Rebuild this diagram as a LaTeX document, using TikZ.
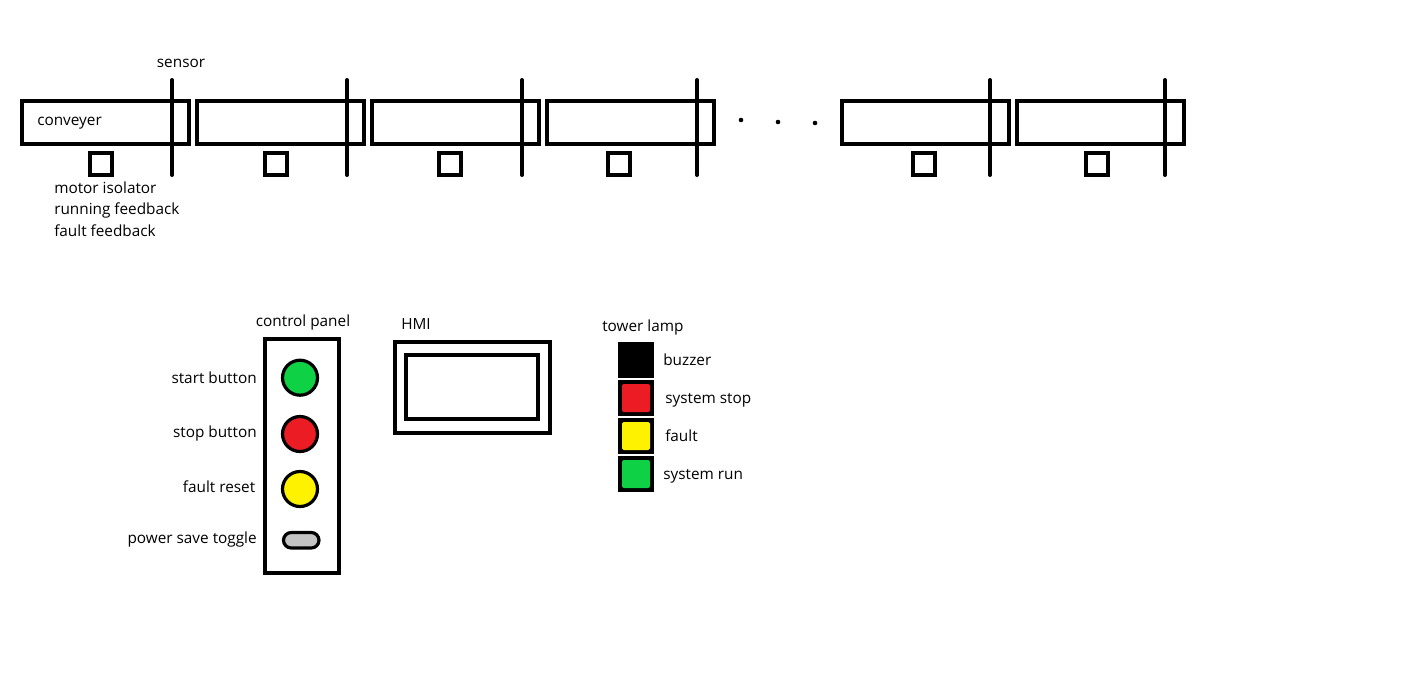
\documentclass[tikz,border=0pt]{standalone}
\usepackage{fontspec}
\setmainfont{Open Sans}
\begin{document}
\begin{tikzpicture}[x=0.75pt,y=-0.75pt,
  thick line/.style={line width=3pt},
  lbl/.style={inner sep=0pt,anchor=mid,yshift=-1.5pt,font=\fontsize{11.5pt}{13pt}\selectfont},
  sensorline/.style={line width=3pt,line cap=round},
  btn/.style={draw=black,line width=2.4pt},
  lampbox/.style={fill=black},
  lampin/.style={rounded corners=1.2pt}]
\useasboundingbox (0,0) rectangle (1416,682);
\definecolor{pgreen}{HTML}{0ED145}
\definecolor{pred}{HTML}{EC1C24}
\definecolor{pyellow}{HTML}{FFF200}
\definecolor{pgray}{HTML}{C3C3C3}
% conveyors
\foreach \cx/\sx/\mx [count=\i] in {22/172/101, 197/347/276, 372/522/450, 547/697/619, 842/990/924, 1017/1165/1097}{
  \draw[thick line] (\cx,100.5) rectangle ++(166.5,43);
  \draw[sensorline] (\sx,80) -- (\sx,175);
  \draw[thick line] (\mx-11,152.5) rectangle (\mx+11,174.5);
}
% dots
\fill (741,120) circle (2.3);
\fill (778,122) circle (2.3);
\fill (815,123) circle (2.3);
% conveyor texts
\node[lbl] (sensor) at (181,62) {sensor};
\node[lbl,anchor=mid west] (conv) at (37,120) {conveyer};
\node[lbl,anchor=mid west] (motor) at (54,187.5) {motor isolator};
\node[lbl,anchor=mid west] (run) at (54,209) {running feedback};
\node[lbl,anchor=mid west] (fault) at (54,230.5) {fault feedback};
% control panel
\draw[thick line] (264.5,339) rectangle (338.5,573);
\node[lbl] (cp) at (303,320.5) {control panel};
\draw[btn,fill=pgreen] (300,377.7) circle (17.5);
\draw[btn,fill=pred] (300,434) circle (17.5);
\draw[btn,fill=pyellow] (300,489) circle (17.5);
\draw[btn,fill=pgray,rounded corners=5.8pt] (283.5,532.5) rectangle (319,548);
\node[lbl,anchor=mid east] (startb) at (257,378) {start button};
\node[lbl,anchor=mid east] (stopb) at (257,432) {stop button};
\node[lbl,anchor=mid east] (resetb) at (255.5,487) {fault reset};
\node[lbl,anchor=mid east] (pst) at (257,538) {power save toggle};
% HMI
\draw[thick line] (394.5,341.5) rectangle (549.5,432.5);
\draw[thick line] (406,355) rectangle (538,419);
\node[lbl,anchor=mid west] (hmi) at (401,324) {HMI};
% tower lamp
\node[lbl,anchor=mid west] (tl) at (602,326) {tower lamp};
\fill[lampbox] (618,342) rectangle (654,378);
\fill[lampbox] (618,380) rectangle (654,416);
\fill[lampbox] (618,418) rectangle (654,454);
\fill[lampbox] (618,456) rectangle (654,492);
\fill[pred,lampin] (622,384) rectangle (650,412);
\fill[pyellow,lampin] (622,422) rectangle (650,450);
\fill[pgreen,lampin] (622,460) rectangle (650,488);
\node[lbl,anchor=mid west] (buz) at (663,359.5) {buzzer};
\node[lbl,anchor=mid west] (sstop) at (665,397.5) {system stop};
\node[lbl,anchor=mid west] (sfault) at (665,435.5) {fault};
\node[lbl,anchor=mid west] (srun) at (663,473.5) {system run};
\end{tikzpicture}
\end{document}
